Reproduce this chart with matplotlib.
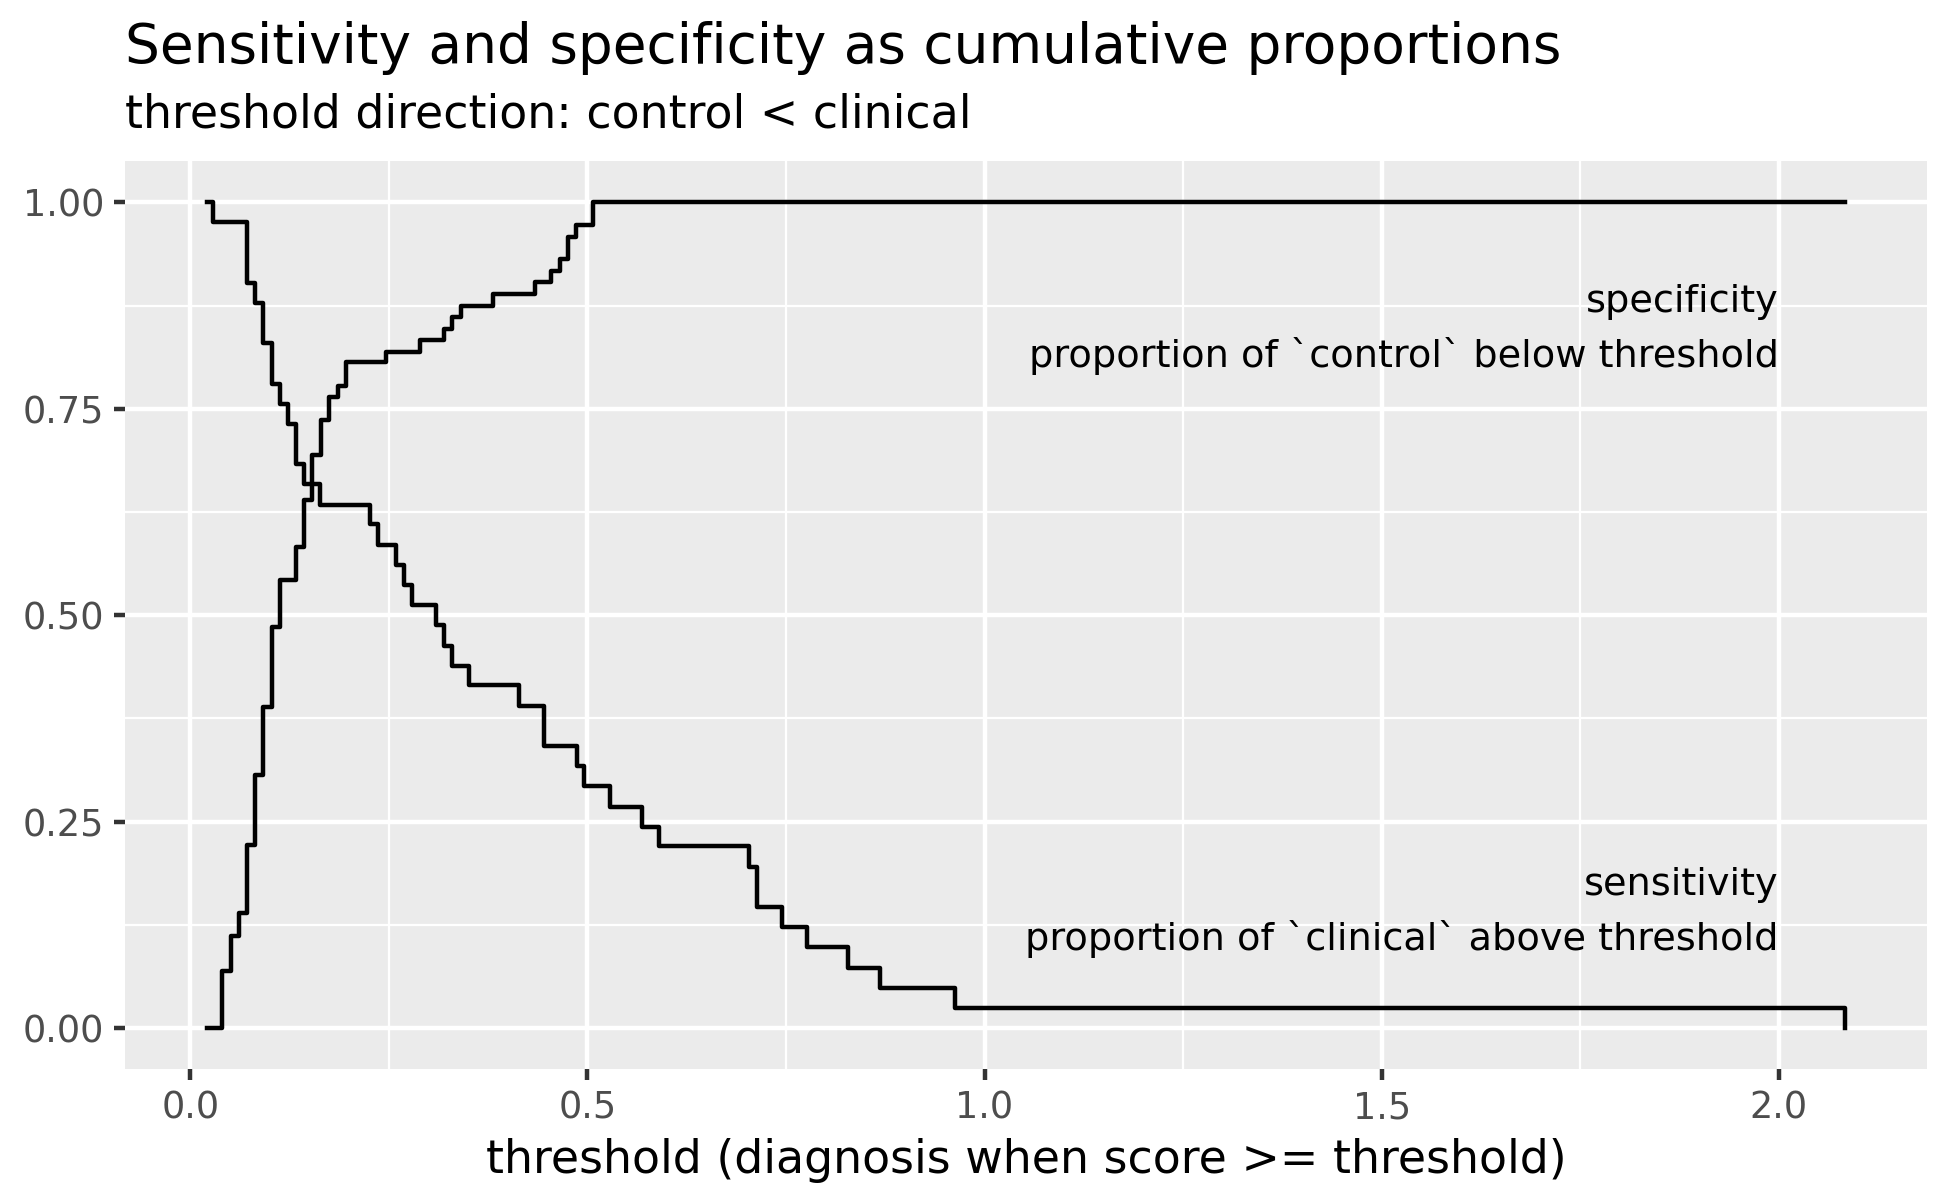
import matplotlib
matplotlib.use("Agg")
import matplotlib.pyplot as plt
from matplotlib.ticker import FixedLocator

plt.rcParams['font.family'] = ['DejaVu Sans']

# ---- data ----
sens_threshold = [0.021, 0.029, 0.071, 0.0815, 0.092, 0.1025, 0.1126, 0.1226, 0.133,
                  0.1436, 0.164, 0.226, 0.237, 0.2587, 0.269, 0.279, 0.310, 0.3195,
                  0.330, 0.351, 0.414, 0.445, 0.487, 0.496, 0.528, 0.569, 0.5906,
                  0.7037, 0.714, 0.7455, 0.776, 0.828, 0.869, 0.9626, 2.083]
sens_value = [1.000, 0.976, 0.902, 0.878, 0.829, 0.780, 0.756, 0.732, 0.683,
              0.659, 0.634, 0.610, 0.585, 0.561, 0.537, 0.512, 0.488, 0.463,
              0.439, 0.415, 0.390, 0.341, 0.317, 0.293, 0.268, 0.244, 0.220,
              0.195, 0.146, 0.122, 0.098, 0.073, 0.049, 0.024, 0.000]

spec_threshold = [0.021, 0.0403, 0.0509, 0.0613, 0.0718, 0.0815, 0.092, 0.1025, 0.1126,
                  0.133, 0.1436, 0.1537, 0.1646, 0.175, 0.1856, 0.1957, 0.247, 0.289,
                  0.320, 0.330, 0.341, 0.3816, 0.4337, 0.4547, 0.465, 0.475, 0.486,
                  0.507, 2.083]
spec_value = [0.000, 0.069, 0.111, 0.139, 0.222, 0.306, 0.389, 0.486, 0.542,
              0.583, 0.639, 0.694, 0.736, 0.764, 0.778, 0.806, 0.819, 0.833,
              0.847, 0.861, 0.875, 0.889, 0.903, 0.917, 0.931, 0.958, 0.972,
              1.000, 1.000]

x_ticks = [0.0, 0.5, 1.0, 1.5, 2.0]
x_tick_labels = ["0.0", "0.5", "1.0", "1.5", "2.0"]
y_ticks = [0.0, 0.25, 0.5, 0.75, 1.0]
y_tick_labels = ["0.00", "0.25", "0.50", "0.75", "1.00"]

title = "Sensitivity and specificity as cumulative proportions"
subtitle = "threshold direction: control < clinical"
xlabel = "threshold (diagnosis when score >= threshold)"
spec_label = ["specificity", "proportion of `control` below threshold"]
sens_label = ["sensitivity", "proportion of `clinical` above threshold"]

# ---- figure ----
W, H = 1950, 1200
fig = plt.figure(figsize=(6.5, 4), dpi=300)
ax = fig.add_axes([125 / W, 1 - 1069.3 / H, (1926.7 - 125) / W, (1069.3 - 161) / H])

ax.set_facecolor("#EBEBEB")
for s in ax.spines.values():
    s.set_visible(False)

xr = max(sens_threshold) - min(sens_threshold)
ax.set_xlim(min(sens_threshold) - 0.05 * xr, max(sens_threshold) + 0.05 * xr)
ax.set_ylim(-0.05, 1.05)

ax.xaxis.set_major_locator(FixedLocator(x_ticks))
ax.set_xticklabels(x_tick_labels)
ax.yaxis.set_major_locator(FixedLocator(y_ticks))
ax.set_yticklabels(y_tick_labels)
ax.xaxis.set_minor_locator(FixedLocator([0.25, 0.75, 1.25, 1.75]))
ax.yaxis.set_minor_locator(FixedLocator([0.125, 0.375, 0.625, 0.875]))

ax.grid(which="major", color="white", linewidth=1.07)
ax.grid(which="minor", color="white", linewidth=0.53)
ax.set_axisbelow(True)

ax.tick_params(which="major", length=2.75, width=1.07, color="#333333",
               labelsize=8.8, labelcolor="#4D4D4D", pad=2.2)
ax.tick_params(which="minor", length=0)

ax.step(sens_threshold, sens_value, where="post", color="black", linewidth=1.07)
ax.step(spec_threshold, spec_value, where="post", color="black", linewidth=1.07)

ax.set_xlabel(xlabel, fontsize=11, labelpad=2.75, color="black")

# annotations (right-aligned at x = 2.0)
ann_size = 9.2
ax.text(2.0, 0.8667, spec_label[0], ha="right", va="baseline", fontsize=ann_size)
ax.text(2.0, 0.800, spec_label[1], ha="right", va="baseline", fontsize=ann_size)
ax.text(2.0, 0.161, sens_label[0], ha="right", va="baseline", fontsize=ann_size)
ax.text(2.0, 0.095, sens_label[1], ha="right", va="baseline", fontsize=ann_size)

fig.text(125 / W, 1 - 63 / H, title, ha="left", va="baseline", fontsize=13.2)
fig.text(125 / W, 1 - 128 / H, subtitle, ha="left", va="baseline", fontsize=11)

fig.savefig("out.png", dpi=300, facecolor="white")
